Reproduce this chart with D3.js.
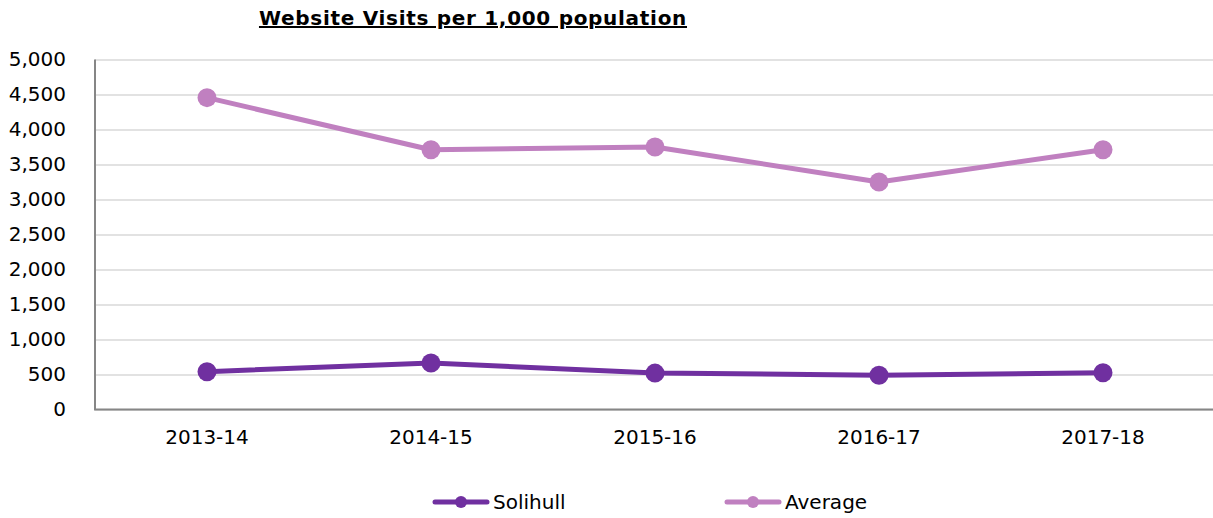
<!DOCTYPE html>
<html>
<head>
<meta charset="utf-8">
<script src="https://cdn.jsdelivr.net/npm/d3@7"></script>
<style>
  body { margin: 0; background: #fff; }
  text { font-family: "DejaVu Sans", Verdana, sans-serif; fill: #000; }
</style>
</head>
<body>
<div id="chart"></div>
<script>
// chart data
var years = ["2013-14", "2014-15", "2015-16", "2016-17", "2017-18"];
var solihull = [540, 665, 520, 490, 525];
var average = [4455, 3710, 3750, 3250, 3710];
var yTicks = [0, 500, 1000, 1500, 2000, 2500, 3000, 3500, 4000, 4500, 5000];

var svgWidth = 1213;
var svgHeight = 518;

var margin = { top: 60, right: -2, bottom: 108, left: 95 };
var width = svgWidth - margin.left - margin.right;
var height = 350;

var svg = d3.select("#chart")
  .append("svg")
  .attr("width", svgWidth)
  .attr("height", svgHeight);

var chartGroup = svg.append("g")
  .attr("transform", `translate(${margin.left}, ${margin.top - 0.5})`);

// scales
var xScale = d3.scaleBand().domain(years).range([0, width]);
var yScale = d3.scaleLinear().domain([0, 5000]).range([height, 0]);

// gridlines
chartGroup.append("g")
  .call(d3.axisLeft(yScale).tickValues(yTicks).tickSize(-width).tickFormat(""))
  .call(g => g.select(".domain").remove())
  .selectAll("line")
  .attr("stroke", "#d9d9d9")
  .attr("stroke-width", 1.3);

// y axis labels
var leftAxis = d3.axisLeft(yScale).tickValues(yTicks).tickSize(0).tickPadding(29)
  .tickFormat(d3.format(","));
chartGroup.append("g")
  .call(leftAxis)
  .call(g => g.select(".domain").remove())
  .selectAll("text")
  .style("font-size", "20px")
  .attr("font-family", null);

// x axis
var bottomAxis = d3.axisBottom(xScale).tickSize(0).tickPadding(20);
chartGroup.append("g")
  .attr("transform", `translate(0, ${height})`)
  .call(bottomAxis)
  .call(g => g.select(".domain").remove())
  .selectAll("text")
  .style("font-size", "20px")
  .attr("font-family", null);

// axis lines
chartGroup.append("line")
  .attr("x1", 0).attr("x2", 0).attr("y1", 0).attr("y2", height)
  .attr("stroke", "#868686").attr("stroke-width", 2);
chartGroup.append("line")
  .attr("x1", -1).attr("x2", width).attr("y1", height).attr("y2", height)
  .attr("stroke", "#868686").attr("stroke-width", 2);

var series = [
  { name: "Solihull", values: solihull, color: "#7030a0" },
  { name: "Average", values: average, color: "#c080c0" }
];

var line = d3.line()
  .x((d, i) => xScale(years[i]) + xScale.bandwidth() / 2)
  .y(d => yScale(d));

series.forEach(s => {
  chartGroup.append("path")
    .datum(s.values)
    .attr("d", line)
    .attr("fill", "none")
    .attr("stroke", s.color)
    .attr("stroke-width", 5)
    .attr("stroke-linejoin", "round");

  chartGroup.selectAll(null)
    .data(s.values)
    .enter()
    .append("circle")
    .attr("cx", (d, i) => xScale(years[i]) + xScale.bandwidth() / 2)
    .attr("cy", d => yScale(d))
    .attr("r", 9.5)
    .attr("fill", s.color);
});

// title
svg.append("text")
  .attr("x", 473)
  .attr("y", 25)
  .attr("text-anchor", "middle")
  .style("font-size", "20px")
  .style("font-weight", "bold")
  .style("letter-spacing", "0.7px")
  .style("text-decoration", "underline")
  .text("Website Visits per 1,000 population");

// legend
var legendX = [433, 725];
series.forEach((s, i) => {
  var g = svg.append("g").attr("transform", `translate(${legendX[i]}, 502)`);
  g.append("line")
    .attr("x1", 2).attr("x2", 54).attr("y1", 0).attr("y2", 0)
    .attr("stroke", s.color).attr("stroke-width", 5).attr("stroke-linecap", "round");
  g.append("circle").attr("cx", 28).attr("cy", 0).attr("r", 6).attr("fill", s.color);
  g.append("text")
    .attr("x", 60).attr("y", 0).attr("dy", "0.35em")
    .style("font-size", "20px")
    .text(s.name);
});
</script>
</body>
</html>
